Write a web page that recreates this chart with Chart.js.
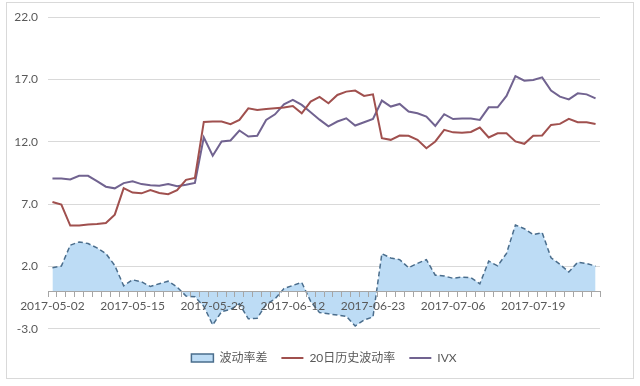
<!DOCTYPE html>
<html>
<head>
<meta charset="utf-8">
<script src="https://cdn.jsdelivr.net/npm/chart.js@4/dist/chart.umd.min.js"></script>
<style>
  body { margin: 0; background: #fff; }
  .wrap { position: relative; width: 640px; height: 386px; }
  .frame { position: absolute; left: 6px; top: 2px; width: 626px; height: 375px; border: 1px solid #d9d9d9; pointer-events: none; }
</style>
</head>
<body>
<div class="wrap">
  <canvas id="myChart" width="640" height="386"></canvas>
  <div class="frame"></div>
</div>
<script>
// trading days 2017-05-02 .. 2017-07-28
const dates = [
  '2017-05-02','2017-05-03','2017-05-04','2017-05-05','2017-05-08','2017-05-09','2017-05-10','2017-05-11','2017-05-12','2017-05-15',
  '2017-05-16','2017-05-17','2017-05-18','2017-05-19','2017-05-22','2017-05-23','2017-05-24','2017-05-25','2017-05-26','2017-05-31',
  '2017-06-01','2017-06-02','2017-06-05','2017-06-06','2017-06-07','2017-06-08','2017-06-09','2017-06-12','2017-06-13','2017-06-14',
  '2017-06-15','2017-06-16','2017-06-19','2017-06-20','2017-06-21','2017-06-22','2017-06-23','2017-06-26','2017-06-27','2017-06-28',
  '2017-06-29','2017-06-30','2017-07-03','2017-07-04','2017-07-05','2017-07-06','2017-07-07','2017-07-10','2017-07-11','2017-07-12',
  '2017-07-13','2017-07-14','2017-07-17','2017-07-18','2017-07-19','2017-07-20','2017-07-21','2017-07-24','2017-07-25','2017-07-26',
  '2017-07-27','2017-07-28'
];

const volSpread = [
  1.9, 2.03, 3.71, 3.97, 3.84, 3.49, 3.04, 2.08, 0.45, 0.93,
  0.77, 0.39, 0.62, 0.82, 0.35, -0.37, -0.43, -1.2, -2.69, -1.62,
  -1.45, -1.0, -2.2, -2.15, -1.05, -0.6, 0.23, 0.48, 0.72, -0.8,
  -1.7, -1.8, -1.9, -2.0, -2.77, -2.3, -2.05, 3.03, 2.68, 2.55,
  1.9, 2.25, 2.55, 1.3, 1.24, 1.05, 1.15, 1.1, 0.61, 2.43,
  2.05, 3.05, 5.33, 5.03, 4.55, 4.72, 2.7, 2.17, 1.56, 2.34,
  2.24, 2.03
];

const hv20 = [
  7.17, 6.96, 5.28, 5.28, 5.36, 5.41, 5.49, 6.16, 8.29, 7.93,
  7.87, 8.13, 7.9, 7.8, 8.12, 8.95, 9.1, 13.6, 13.63, 13.63,
  13.41, 13.76, 14.69, 14.56, 14.64, 14.69, 14.75, 14.88, 14.29, 15.23,
  15.6, 15.09, 15.76, 16.03, 16.11, 15.68, 15.81, 12.29, 12.16, 12.51,
  12.48, 12.16, 11.49, 12.03, 12.96, 12.76, 12.72, 12.79, 13.15, 12.35,
  12.69, 12.69, 12.03, 11.84, 12.48, 12.51, 13.36, 13.44, 13.84, 13.57,
  13.57, 13.44
];

const ivx = [
  9.05, 9.05, 8.98, 9.27, 9.27, 8.85, 8.4, 8.27, 8.69, 8.83,
  8.61, 8.52, 8.48, 8.61, 8.43, 8.55, 8.7, 12.36, 10.89, 12.03,
  12.11, 12.91, 12.43, 12.48, 13.76, 14.21, 15.01, 15.36, 14.96, 14.37,
  13.78, 13.25, 13.63, 13.89, 13.31, 13.57, 13.84, 15.31, 14.83, 15.04,
  14.43, 14.29, 14.03, 13.28, 14.22, 13.83, 13.87, 13.87, 13.76, 14.77,
  14.77, 15.68, 17.28, 16.91, 16.96, 17.17, 16.11, 15.63, 15.41, 15.89,
  15.81, 15.49
];

const yTicks = [-3, 2, 7, 12, 17, 22];

const font = { family: "Lato, 'Noto Sans CJK SC', sans-serif", size: 12 };
const textColor = '#595959';

const data = {
  labels: dates,
  datasets: [{
    label: '波动率差',
    data: volSpread,
    fill: 'origin',
    backgroundColor: '#bddcf5',
    borderColor: '#4a6d8c',
    borderWidth: 1.5,
    borderDash: [5, 3],
    pointRadius: 0,
    pointStyle: 'rect',
    tension: 0
  }, {
    label: '20日历史波动率',
    data: hv20,
    borderColor: '#a0504e',
    backgroundColor: '#a0504e',
    borderWidth: 2,
    pointRadius: 0,
    pointStyle: 'line',
    fill: false,
    tension: 0
  }, {
    label: 'IVX',
    data: ivx,
    borderColor: '#716390',
    backgroundColor: '#716390',
    borderWidth: 2,
    pointRadius: 0,
    pointStyle: 'line',
    fill: false,
    tension: 0
  }]
};

const config = {
  type: 'line',
  data: data,
  options: {
    responsive: false,
    animation: false,
    devicePixelRatio: 1,
    layout: { padding: { left: 0, right: 40, top: 17, bottom: 12 } },
    scales: {
      x: {
        type: 'category',
        position: { y: 0 },
        offset: true,
        grid: {
          drawOnChartArea: false,
          drawTicks: true,
          tickLength: 5,
          color: '#a6a6a6',
          offset: true,
          z: 1
        },
        border: { display: true, color: '#a6a6a6', z: 1 },
        ticks: {
          autoSkip: false,
          maxRotation: 0,
          minRotation: 0,
          padding: 3,
          z: 1,
          color: textColor,
          font: font,
          callback: function (v, i) { return i % 9 === 0 ? dates[i] : ''; }
        }
      },
      y: {
        min: -3,
        max: 22,
        afterBuildTicks: function (scale) {
          scale.ticks = yTicks.map(v => ({ value: v }));
        },
        afterFit: function (scale) { scale.width = 48; },
        grid: { color: '#d9d9d9', drawTicks: false },
        border: { display: false },
        ticks: {
          padding: 10,
          color: textColor,
          font: font,
          callback: v => v.toFixed(1)
        }
      }
    },
    plugins: {
      tooltip: { enabled: false },
      legend: {
        position: 'bottom',
        fullSize: false,
        title: { display: true, text: '', font: { size: 1 }, padding: { top: 8, bottom: 0 } },
        labels: {
          usePointStyle: true,
          pointStyleWidth: 22,
          boxHeight: 8,
          padding: 14,
          color: textColor,
          font: font
        }
      }
    }
  }
};

const myChart = new Chart(document.getElementById('myChart'), config);
</script>
</body>
</html>
